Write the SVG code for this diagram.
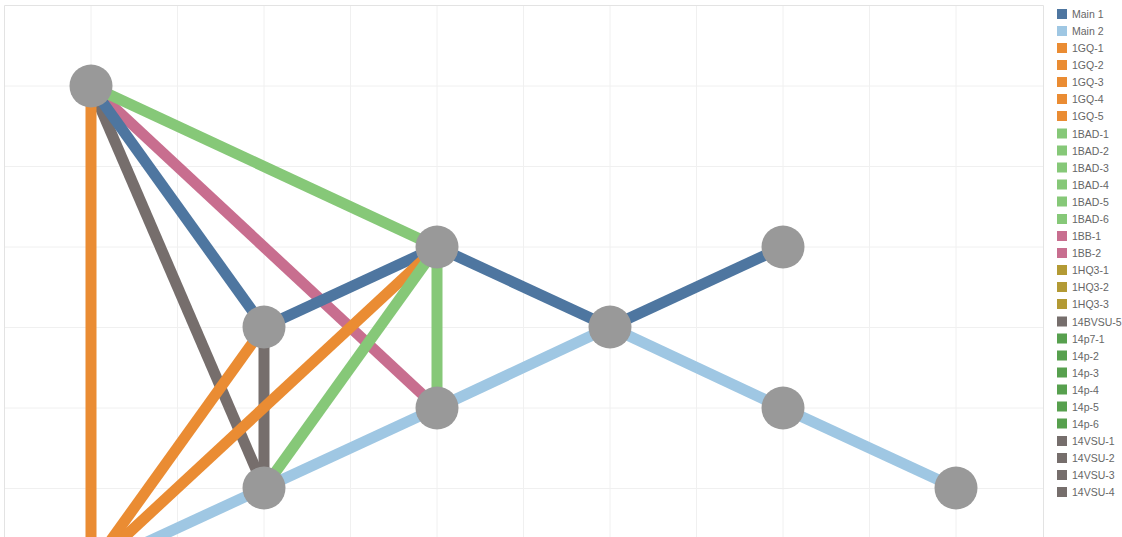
<svg xmlns="http://www.w3.org/2000/svg" width="1122" height="537" viewBox="0 0 1122 537">
<style>
.grid line{stroke:#f0f0f0;stroke-width:1}
.border{stroke:#e3e3e3;stroke-width:1;fill:none}
.e{stroke-width:11;fill:none;stroke-linecap:butt}
.m1{stroke:#4e76a0}
.m2{stroke:#9fc7e3}
.gq{stroke:#ea8c33}
.bad{stroke:#86c878}
.bb{stroke:#c86e8f}
.vsu{stroke:#766e6c}
.node circle{fill:#999999}
.lg text{font-family:"Liberation Sans",Arial,sans-serif;font-size:10.5px;fill:#666666}
</style>
<rect width="1122" height="537" fill="#ffffff"/>
<g class="grid">
<line x1="4" y1="86" x2="1043" y2="86"/>
<line x1="4" y1="166.5" x2="1043" y2="166.5"/>
<line x1="4" y1="247" x2="1043" y2="247"/>
<line x1="4" y1="327.5" x2="1043" y2="327.5"/>
<line x1="4" y1="408" x2="1043" y2="408"/>
<line x1="4" y1="488.5" x2="1043" y2="488.5"/>
<line x1="91" y1="5" x2="91" y2="537"/>
<line x1="177.5" y1="5" x2="177.5" y2="537"/>
<line x1="264" y1="5" x2="264" y2="537"/>
<line x1="350.5" y1="5" x2="350.5" y2="537"/>
<line x1="437" y1="5" x2="437" y2="537"/>
<line x1="523.5" y1="5" x2="523.5" y2="537"/>
<line x1="610" y1="5" x2="610" y2="537"/>
<line x1="696.5" y1="5" x2="696.5" y2="537"/>
<line x1="783" y1="5" x2="783" y2="537"/>
<line x1="869.5" y1="5" x2="869.5" y2="537"/>
<line x1="956" y1="5" x2="956" y2="537"/>
</g>
<path class="border" d="M4.5,537 V5.5 H1043.5 V537"/>
<g id="connectors">
<line class="e bb" x1="91" y1="86" x2="437" y2="408"/>
<line class="e vsu" x1="91" y1="86" x2="264" y2="488"/>
<line class="e vsu" x1="264" y1="327" x2="264" y2="488"/>
<line class="e m1" x1="91" y1="86" x2="264" y2="327"/>
<line class="e m1" x1="264" y1="327" x2="437" y2="247"/>
<line class="e m1" x1="437" y1="247" x2="610" y2="327"/>
<line class="e m1" x1="610" y1="327" x2="783" y2="247"/>
<line class="e gq" x1="91" y1="86" x2="91" y2="568"/>
<line class="e gq" x1="264" y1="327" x2="91" y2="568"/>
<line class="e gq" x1="437" y1="247" x2="91" y2="568"/>
<line class="e bad" x1="91" y1="86" x2="437" y2="247"/>
<line class="e bad" x1="437" y1="247" x2="264" y2="488"/>
<line class="e bad" x1="437" y1="247" x2="437" y2="408"/>
<line class="e m2" x1="91" y1="568" x2="264" y2="488"/>
<line class="e m2" x1="264" y1="488" x2="437" y2="408"/>
<line class="e m2" x1="437" y1="408" x2="610" y2="327"/>
<line class="e m2" x1="610" y1="327" x2="783" y2="408"/>
<line class="e m2" x1="783" y1="408" x2="956" y2="488"/>
</g>
<g id="nA" class="node"><circle cx="91" cy="86" r="21.5"/></g>
<g id="nB" class="node"><circle cx="264" cy="327" r="21.5"/></g>
<g id="nC" class="node"><circle cx="437" cy="247" r="21.5"/></g>
<g id="nD" class="node"><circle cx="437" cy="408" r="21.5"/></g>
<g id="nE" class="node"><circle cx="264" cy="488" r="21.5"/></g>
<g id="nF" class="node"><circle cx="610" cy="327" r="21.5"/></g>
<g id="nG" class="node"><circle cx="783" cy="247" r="21.5"/></g>
<g id="nH" class="node"><circle cx="783" cy="408" r="21.5"/></g>
<g id="nI" class="node"><circle cx="956" cy="488" r="21.5"/></g>
<g id="legend" class="lg">
<rect x="1057" y="9" width="10" height="10" fill="#4e76a0"/><text x="1072" y="18">Main 1</text>
<rect x="1057" y="26" width="10" height="10" fill="#9fc7e3"/><text x="1072" y="35">Main 2</text>
<rect x="1057" y="43" width="10" height="10" fill="#ea8c33"/><text x="1072" y="52">1GQ-1</text>
<rect x="1057" y="60" width="10" height="10" fill="#ea8c33"/><text x="1072" y="69">1GQ-2</text>
<rect x="1057" y="77" width="10" height="10" fill="#ea8c33"/><text x="1072" y="86">1GQ-3</text>
<rect x="1057" y="94" width="10" height="10" fill="#ea8c33"/><text x="1072" y="103">1GQ-4</text>
<rect x="1057" y="111" width="10" height="10" fill="#ea8c33"/><text x="1072" y="120">1GQ-5</text>
<rect x="1057" y="128.5" width="10" height="10" fill="#86c878"/><text x="1072" y="137.5">1BAD-1</text>
<rect x="1057" y="145.5" width="10" height="10" fill="#86c878"/><text x="1072" y="154.5">1BAD-2</text>
<rect x="1057" y="162.5" width="10" height="10" fill="#86c878"/><text x="1072" y="171.5">1BAD-3</text>
<rect x="1057" y="179.5" width="10" height="10" fill="#86c878"/><text x="1072" y="188.5">1BAD-4</text>
<rect x="1057" y="196.5" width="10" height="10" fill="#86c878"/><text x="1072" y="205.5">1BAD-5</text>
<rect x="1057" y="214" width="10" height="10" fill="#86c878"/><text x="1072" y="223">1BAD-6</text>
<rect x="1057" y="231" width="10" height="10" fill="#c86e8f"/><text x="1072" y="240">1BB-1</text>
<rect x="1057" y="248" width="10" height="10" fill="#c86e8f"/><text x="1072" y="257">1BB-2</text>
<rect x="1057" y="265" width="10" height="10" fill="#b39a34"/><text x="1072" y="274">1HQ3-1</text>
<rect x="1057" y="282" width="10" height="10" fill="#b39a34"/><text x="1072" y="291">1HQ3-2</text>
<rect x="1057" y="299" width="10" height="10" fill="#b39a34"/><text x="1072" y="308">1HQ3-3</text>
<rect x="1057" y="316.5" width="10" height="10" fill="#766e6c"/><text x="1072" y="325.5">14BVSU-5</text>
<rect x="1057" y="333.5" width="10" height="10" fill="#57a04e"/><text x="1072" y="342.5">14p7-1</text>
<rect x="1057" y="350.5" width="10" height="10" fill="#57a04e"/><text x="1072" y="359.5">14p-2</text>
<rect x="1057" y="367.5" width="10" height="10" fill="#57a04e"/><text x="1072" y="376.5">14p-3</text>
<rect x="1057" y="384.5" width="10" height="10" fill="#57a04e"/><text x="1072" y="393.5">14p-4</text>
<rect x="1057" y="401.5" width="10" height="10" fill="#57a04e"/><text x="1072" y="410.5">14p-5</text>
<rect x="1057" y="418.5" width="10" height="10" fill="#57a04e"/><text x="1072" y="427.5">14p-6</text>
<rect x="1057" y="436" width="10" height="10" fill="#766e6c"/><text x="1072" y="445">14VSU-1</text>
<rect x="1057" y="453" width="10" height="10" fill="#766e6c"/><text x="1072" y="462">14VSU-2</text>
<rect x="1057" y="470" width="10" height="10" fill="#766e6c"/><text x="1072" y="479">14VSU-3</text>
<rect x="1057" y="487" width="10" height="10" fill="#766e6c"/><text x="1072" y="496">14VSU-4</text>
</g>
</svg>
